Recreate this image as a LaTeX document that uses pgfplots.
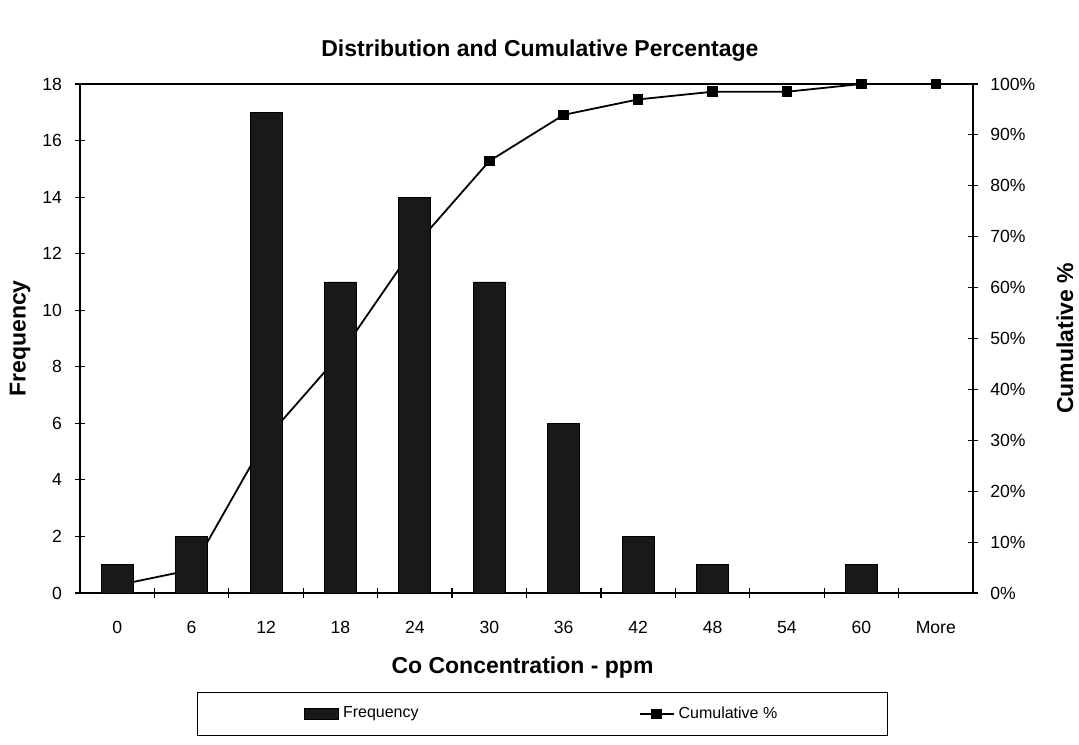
\documentclass[border=0pt]{standalone}
\usepackage{fontspec}
\setmainfont{Liberation Sans}
\usepackage{pgfplots}
\usepackage{pgfplotstable}
\pgfplotsset{compat=1.18}

% Bin index, frequency and cumulative percentage of Co concentrations
\pgfplotstableread{
idx freq cum
0   1    1.52
1   2    4.55
2   17   30.30
3   11   46.97
4   14   68.18
5   11   84.85
6   6    93.94
7   2    96.97
8   1    98.48
9   0    98.48
10  1    100
11  0    100
}\histdata

\definecolor{barfill}{gray}{0.10}

\pgfplotsset{
  common/.style={
    at={(0,0)}, anchor=south west,
    scale only axis, width=446.5pt, height=254.5pt,
    xmin=-0.5, xmax=11.5,
    tick align=center,
    major tick length=5pt, minor tick length=5pt,
    axis line style={line width=0.6pt},
    every tick/.style={black, line width=0.6pt},
    tick label style={font=\fontsize{8.8}{10}\selectfont},
    /pgf/number format/assume math mode=true,
    label style={font=\bfseries\fontsize{11.5}{13}\selectfont},
  },
}

\begin{document}
\begin{tikzpicture}
\path[use as bounding box] (-40pt,-75.5pt) rectangle (499.5pt,296.5pt);

% cumulative percentage on the right-hand scale, drawn behind the bars
\begin{axis}[
  common,
  ymin=0, ymax=100,
  axis x line=none, axis y line*=right,
  ytick={0,10,...,100},
  yticklabel={\pgfmathprintnumber{\tick}\%},
  yticklabel style={xshift=2.6pt},
  ylabel={Cumulative \%},
  ylabel style={at={(axis description cs:1.103,0.5)}, anchor=center},
  clip=false,
]
\addplot[black, line width=0.9pt, mark=square*, mark size=2.2pt]
  table[x=idx, y=cum] {\histdata};
\end{axis}

% frequency histogram on the left-hand scale
\begin{axis}[
  common,
  ymin=0, ymax=18,
  ytick={0,2,...,18}, ytick pos=left,
  yticklabel style={xshift=-3pt},
  xtick={0,...,11}, xtick pos=bottom,
  xticklabels={0,6,12,18,24,30,36,42,48,54,60,More},
  xticklabel style={yshift=-8pt},
  major x tick style={draw=none},
  minor xtick={0.5,1.5,...,10.5},
  xlabel={Co Concentration - ppm},
  xlabel style={at={(axis description cs:0.4955,-0.1473)}, anchor=center},
  ylabel={Frequency},
  ylabel style={at={(axis description cs:-0.0672,0.5)}, anchor=center},
  title={Distribution and Cumulative Percentage},
  title style={at={(axis description cs:0.515,1.031)}, anchor=base,
    font=\bfseries\fontsize{11.5}{13}\selectfont},
  legend columns=2,
  legend style={
    at={(axis description cs:0.5179,-0.1945)}, anchor=north,
    draw=black, line width=0.6pt,
    font=\fontsize{8}{9.6}\selectfont,
    inner xsep=53pt, inner ysep=5pt,
    cells={anchor=west},
    /tikz/every even column/.append style={column sep=108pt},
  },
]
\addplot[ybar, bar width=16pt, fill=barfill, draw=black, area legend]
  table[x=idx, y=freq] {\histdata};
\addlegendentry{Frequency}
\addlegendimage{black, line width=0.9pt, mark=square*, mark size=2.2pt}
\addlegendentry{Cumulative \%}
\end{axis}
\end{tikzpicture}
\end{document}
